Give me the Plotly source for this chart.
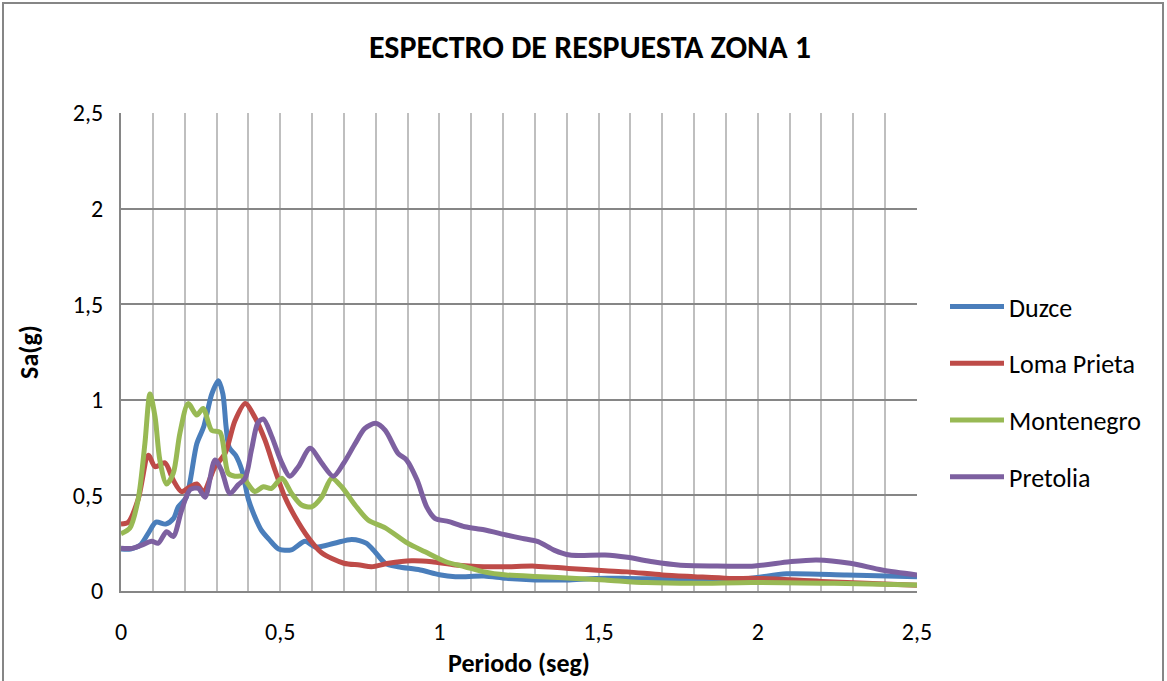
import plotly.graph_objects as go

# ---- data ----
duzce_T = [0, 0.03, 0.06, 0.085, 0.11, 0.14, 0.165, 0.18, 0.205, 0.238, 0.26, 0.285, 0.306, 0.32, 0.33, 0.34,
           0.36, 0.38, 0.40, 0.42, 0.44, 0.465, 0.495, 0.535, 0.578, 0.61, 0.67, 0.725, 0.77, 0.80, 0.83, 0.87,
           0.94, 1.0, 1.05, 1.14, 1.21, 1.30, 1.40, 1.49, 1.59, 1.75, 1.97, 2.09, 2.28, 2.5]
duzce_Sa = [0.22, 0.22, 0.24, 0.30, 0.36, 0.35, 0.38, 0.44, 0.49, 0.77, 0.86, 1.03, 1.10, 1.03, 0.86, 0.75,
            0.71, 0.63, 0.48, 0.39, 0.32, 0.27, 0.22, 0.215, 0.26, 0.23, 0.25, 0.27, 0.25, 0.20, 0.145, 0.127,
            0.11, 0.085, 0.075, 0.078, 0.066, 0.058, 0.058, 0.066, 0.066, 0.062, 0.066, 0.09, 0.084, 0.075]

loma_T = [0, 0.023, 0.054, 0.086, 0.107, 0.138, 0.164, 0.19, 0.217, 0.238, 0.259, 0.295, 0.327, 0.358, 0.39,
          0.42, 0.452, 0.484, 0.515, 0.546, 0.588, 0.63, 0.70, 0.75, 0.787, 0.84, 0.913, 0.976, 1.05, 1.14,
          1.21, 1.30, 1.405, 1.52, 1.59, 1.70, 1.80, 1.91, 2.0, 2.2, 2.5]
loma_Sa = [0.35, 0.36, 0.48, 0.71, 0.65, 0.67, 0.58, 0.52, 0.545, 0.56, 0.52, 0.65, 0.72, 0.89, 0.98,
           0.91, 0.79, 0.63, 0.49, 0.39, 0.28, 0.20, 0.145, 0.136, 0.127, 0.145, 0.158, 0.153, 0.136, 0.127,
           0.127, 0.13, 0.118, 0.106, 0.10, 0.084, 0.075, 0.066, 0.066, 0.05, 0.03]

monte_T = [0, 0.028, 0.054, 0.075, 0.091, 0.107, 0.122, 0.143, 0.164, 0.185, 0.211, 0.238, 0.258, 0.285,
           0.311, 0.337, 0.358, 0.379, 0.42, 0.447, 0.473, 0.505, 0.536, 0.567, 0.599, 0.63, 0.662, 0.693,
           0.735, 0.777, 0.83, 0.90, 0.955, 1.02, 1.08, 1.14, 1.21, 1.32, 1.43, 1.52, 1.65, 1.80, 1.98, 2.24, 2.5]
monte_Sa = [0.30, 0.33, 0.48, 0.77, 1.03, 0.91, 0.685, 0.56, 0.615, 0.825, 0.98, 0.92, 0.955, 0.84,
            0.83, 0.615, 0.60, 0.60, 0.52, 0.545, 0.537, 0.59, 0.51, 0.45, 0.44, 0.49, 0.59, 0.545,
            0.45, 0.37, 0.33, 0.25, 0.205, 0.153, 0.127, 0.10, 0.084, 0.075, 0.066, 0.058, 0.044, 0.04, 0.045, 0.04, 0.031]

pret_T = [0, 0.034, 0.065, 0.096, 0.117, 0.143, 0.164, 0.19, 0.217, 0.243, 0.264, 0.295, 0.316, 0.342, 0.368,
          0.39, 0.41, 0.43, 0.447, 0.473, 0.505, 0.53, 0.557, 0.594, 0.63, 0.667, 0.70, 0.735, 0.766, 0.80,
          0.83, 0.87, 0.897, 0.93, 0.96, 0.986, 1.03, 1.08, 1.14, 1.21, 1.26, 1.31, 1.36, 1.41, 1.52, 1.59,
          1.67, 1.75, 1.855, 1.99, 2.10, 2.185, 2.29, 2.39, 2.5]
pret_Sa = [0.223, 0.223, 0.24, 0.26, 0.25, 0.31, 0.285, 0.42, 0.53, 0.537, 0.49, 0.685, 0.63, 0.51, 0.555,
           0.59, 0.74, 0.88, 0.90, 0.81, 0.67, 0.60, 0.65, 0.746, 0.67, 0.60, 0.67, 0.77, 0.85, 0.877,
           0.84, 0.72, 0.685, 0.58, 0.44, 0.38, 0.363, 0.336, 0.32, 0.293, 0.275, 0.258, 0.214, 0.188, 0.188, 0.176,
           0.153, 0.136, 0.131, 0.131, 0.153, 0.162, 0.145, 0.11, 0.084]

series_names = ["Duzce", "Loma Prieta", "Montenegro", "Pretolia"]
series_colors = ["#4A7EBB", "#BE4B48", "#98B954", "#7D60A0"]

x_tickvals = [0, 0.5, 1, 1.5, 2, 2.5]
x_ticktext = ["0", "0,5", "1", "1,5", "2", "2,5"]
y_tickvals = [0, 0.5, 1, 1.5, 2, 2.5]
y_ticktext = ["0", "0,5", "1", "1,5", "2", "2,5"]

FONT = "Calibri, Carlito, 'Open Sans', sans-serif"

fig = go.Figure()
for i, (T, Sa) in enumerate([(duzce_T, duzce_Sa), (loma_T, loma_Sa), (monte_T, monte_Sa), (pret_T, pret_Sa)]):
    fig.add_trace(go.Scatter(
        x=T, y=Sa, mode="lines", name=series_names[i], legendgroup=series_names[i],
        line=dict(color=series_colors[i], width=5, shape="spline", smoothing=0.8),
    ))

# plot area: x 121..917, y 113..591 in a 1167x681 canvas
W, H = 1167, 681
L, R, T_, B = 121, W - 917, 113, H - 591
pw, ph = 917 - 121, 591 - 113

def px(xp):
    return (xp - 121) / pw

def py(yp):
    return (591 - yp) / ph

fig.update_layout(
    width=W, height=H,
    margin=dict(l=L, r=R, t=T_, b=B, autoexpand=False),
    paper_bgcolor="white", plot_bgcolor="white",
    font=dict(family=FONT, size=24, color="black"),
    title=dict(text="<b>ESPECTRO DE RESPUESTA ZONA 1</b>", xref="container", x=590 / W, xanchor="center",
               yref="container", y=1 - 47 / H, yanchor="middle", font=dict(size=32, family=FONT)),
    showlegend=True,
    legend=dict(x=px(945), xanchor="left", y=py(283), yanchor="top",
                font=dict(size=26, family=FONT), tracegroupgap=20, itemwidth=54,
                bgcolor="rgba(0,0,0,0)"),
    shapes=[dict(type="rect", xref="paper", yref="paper",
                 x0=px(3), x1=px(1163), y0=py(700), y1=py(3),
                 line=dict(color="#868686", width=2), fillcolor="rgba(0,0,0,0)", layer="below")],
)

fig.update_xaxes(
    range=[0, 2.5], tickvals=x_tickvals, ticktext=x_ticktext, automargin=False,
    showgrid=True, gridcolor="#BFBFBF", gridwidth=1.5,
    minor=dict(dtick=0.1, showgrid=True, gridcolor="#BFBFBF", gridwidth=1.5),
    showline=True, linecolor="#868686", linewidth=2, zeroline=False,
    ticks="", ticklabelstandoff=18,
    tickfont=dict(size=24, family=FONT),
    title=dict(text="<b>Periodo (seg)</b>", font=dict(size=26, family=FONT), standoff=9),
)
fig.update_yaxes(
    range=[0, 2.5], tickvals=y_tickvals, ticktext=y_ticktext, automargin=False,
    showgrid=True, gridcolor="#868686", gridwidth=1.5,
    showline=True, linecolor="#868686", linewidth=2, zeroline=False,
    ticks="", ticklabelstandoff=11,
    tickfont=dict(size=24, family=FONT),
    title=dict(text="<b>Sa(g)</b>", font=dict(size=26, family=FONT), standoff=27),
)

fig.write_html("out.html", config={"displayModeBar": False},
               post_script="document.body.style.margin='0';document.body.style.overflow='hidden';")
